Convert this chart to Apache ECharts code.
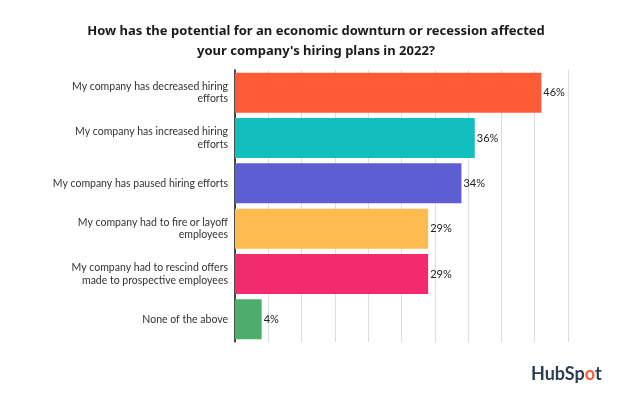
<!DOCTYPE html>
<html>
<head>
<meta charset="utf-8">
<script src="https://cdn.jsdelivr.net/npm/echarts@6/dist/echarts.min.js"></script>
<style>html,body{margin:0;padding:0;background:#fff;}#c{width:623px;height:395px;}</style>
</head>
<body>
<div id="c"></div>
<script>
const categories = [
  "My company has decreased hiring\nefforts",
  "My company has increased hiring\nefforts",
  "My company has paused hiring efforts",
  "My company had to fire or layoff\nemployees",
  "My company had to rescind offers\nmade to prospective employees",
  "None of the above"
];
const values = [46, 36, 34, 29, 29, 4];
const barColors = ["#FE5C36", "#13BFBE", "#5C5ED2", "#FEBB4F", "#F42A6F", "#4DAE6B"];
const titleText = "How has the potential for an economic downturn or recession affected\nyour company's hiring plans in 2022?";

const chart = echarts.init(document.getElementById('c'), null, {renderer: 'canvas'});
chart.setOption({
  backgroundColor: '#fff',
  animation: false,
  title: {
    text: titleText,
    left: 311, top: 16, textAlign: 'center',
    textStyle: {fontFamily: 'Noto Sans', fontWeight: 'bold', fontSize: 13, color: '#1a1a1a', lineHeight: 20}
  },
  grid: {left: 235, top: 70, width: 333, height: 272, containLabel: false},
  xAxis: {
    type: 'value', min: 0, max: 50, interval: 5,
    axisLabel: {show: false}, axisTick: {show: false}, axisLine: {show: false},
    splitLine: {show: true, lineStyle: {color: '#dcdcdc', width: 1}}
  },
  yAxis: {
    type: 'category', data: categories, inverse: true,
    axisTick: {show: false},
    axisLine: {show: true, lineStyle: {color: '#111', width: 1.5}},
    axisLabel: {margin: 7, fontFamily: 'Lato', fontSize: 10.5, color: '#333', lineHeight: 12.5, align: 'right'}
  },
  series: [{
    type: 'bar', data: values.map((v, i) => ({value: v, itemStyle: {color: barColors[i]}})),
    barWidth: 40,
    label: {show: true, position: 'right', distance: 2, formatter: '{c}%', fontFamily: 'Lato', fontSize: 11, color: '#222'}
  }],
  graphic: [{
    type: 'text', left: 531, top: 365,
    style: {
      text: '{a|HubSp}{b|o}{a|t}',
      rich: {
        a: {fontFamily: 'Lato', fontWeight: 'bold', fontSize: 18, fill: '#2d3e50'},
        b: {fontFamily: 'Lato', fontWeight: 'bold', fontSize: 18, fill: '#FF5C35'}
      }
    }
  }]
});
</script>
</body>
</html>
